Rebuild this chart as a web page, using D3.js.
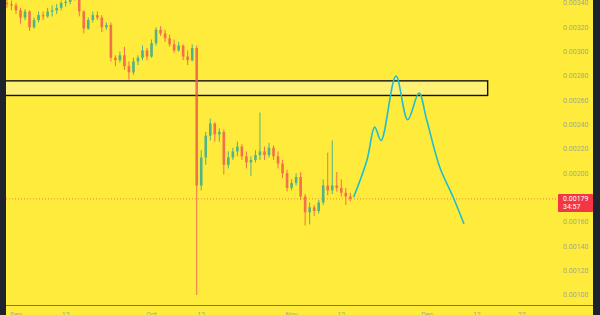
<!DOCTYPE html>
<html>
<head>
<meta charset="utf-8">
<script src="https://cdn.jsdelivr.net/npm/d3@7"></script>
<style>
  html, body { margin: 0; padding: 0; background: #1e222d; overflow: hidden; }
  text { font-family: Roboto, "Open Sans", sans-serif; }
</style>
</head>
<body>
<script>
const WIDTH = 600;
const HEIGHT = 315;

const BG = "#ffeb3b";
const UP = "#26a69a";
const DOWN = "#ef5350";

// daily candles from Aug 30, prices in units of 0.00001
const START = Date.UTC(2025, 7, 30);
const DAY = 864e5;
const UNIT = 1e-5;

const opens  = [340, 339, 338, 334, 328, 333, 320, 326, 330, 329, 333, 334, 336, 340, 341, 347, 345, 333, 319, 326,
                330, 328, 320, 322, 295, 293, 297, 288, 283, 292, 295, 301, 296, 307, 318, 315, 311, 306, 301, 305,
                296, 293, 303, 190, 213, 231, 241, 232, 234, 207, 213, 218, 222, 214, 209, 211, 215, 218, 215, 221,
                214, 208, 200, 188, 192, 197, 181, 168, 172, 169, 176, 190, 186, 190, 188, 184, 181];
const highs  = [344, 342, 340, 336, 335, 334, 328, 333, 333, 336, 338, 339, 342, 345, 349, 351, 347, 334, 328, 333,
                333, 330, 324, 324, 297, 300, 304, 292, 295, 297, 305, 303, 310, 320, 321, 318, 314, 310, 308, 306,
                301, 306, 305, 219, 234, 245, 242, 237, 236, 218, 221, 226, 224, 218, 214, 219, 250, 222, 225, 223,
                218, 211, 203, 195, 200, 201, 183, 176, 174, 178, 195, 217, 227, 201, 195, 188, 184];
const lows   = [336, 334, 331, 323, 326, 317, 319, 324, 326, 328, 329, 331, 334, 337, 339, 342, 329, 315, 318, 324,
                326, 316, 318, 292, 288, 291, 285, 277, 281, 289, 293, 293, 295, 305, 313, 308, 304, 299, 300, 293,
                289, 292, 100, 186, 207, 227, 226, 226, 199, 204, 211, 214, 211, 204, 198, 209, 211, 211, 213, 211,
                204, 196, 185, 186, 190, 178, 157, 158, 165, 167, 174, 182, 183, 185, 181, 174, 177];
const closes = [339, 338, 334, 328, 333, 320, 326, 330, 329, 333, 334, 336, 340, 341, 347, 345, 333, 319, 326, 330,
                328, 320, 322, 295, 293, 297, 288, 283, 292, 295, 301, 296, 307, 318, 315, 311, 306, 301, 305, 296,
                293, 303, 190, 213, 231, 241, 232, 234, 207, 213, 218, 222, 214, 209, 211, 215, 218, 215, 221, 214,
                208, 200, 188, 192, 197, 181, 168, 172, 169, 176, 190, 186, 190, 188, 184, 181, 179];

// drawn forecast path: days after Sep 1 and price
const projDays   = [74.8, 77.7, 79.4, 80.8, 84.1, 86.7, 89.2, 90.9, 93.8, 96.7, 99.1];
const projPrices = [181, 211, 238, 227, 280, 244, 266, 244, 205, 181, 159];

// resistance zone
const zoneTop = 276;
const zoneBottom = 264;
const zoneEndDay = 104.4;

const yTicks = [340, 320, 300, 280, 260, 240, 220, 200, 160, 140, 120, 100];
const xTicks = [
  {d: Date.UTC(2025, 8, 1), label: "Sep"},
  {d: Date.UTC(2025, 8, 12), label: "12"},
  {d: Date.UTC(2025, 9, 1), label: "Oct"},
  {d: Date.UTC(2025, 9, 12), label: "12"},
  {d: Date.UTC(2025, 10, 1), label: "Nov"},
  {d: Date.UTC(2025, 10, 12), label: "12"},
  {d: Date.UTC(2025, 11, 1), label: "Dec"},
  {d: Date.UTC(2025, 11, 12), label: "12"},
  {d: Date.UTC(2025, 11, 22), label: "22"}
];
const lastPrice = "0.00179";
const countdown = "34:57";

const SEP1 = Date.UTC(2025, 8, 1);

var x = d3.scaleUtc()
  .domain([new Date(SEP1), new Date(Date.UTC(2025, 11, 22))])
  .range([16, 522]);
var y = d3.scaleLinear()
  .domain([100 * UNIT, 340 * UNIT])
  .range([295, 3]);

const PLOT_LEFT = 6, PLOT_RIGHT = 593, PLOT_BOTTOM = 305;

var svg = d3.select("body").append("svg")
  .attr("width", WIDTH).attr("height", HEIGHT)
  .style("display", "block");

svg.append("rect").attr("width", WIDTH).attr("height", HEIGHT).attr("fill", "#1e222d");
svg.append("rect")
  .attr("x", PLOT_LEFT).attr("y", 0)
  .attr("width", PLOT_RIGHT - PLOT_LEFT).attr("height", HEIGHT)
  .attr("fill", BG);

svg.append("clipPath").attr("id", "plot")
  .append("rect")
  .attr("x", PLOT_LEFT).attr("y", 0)
  .attr("width", PLOT_RIGHT - PLOT_LEFT).attr("height", PLOT_BOTTOM);

var g = svg.append("g").attr("clip-path", "url(#plot)");

// zone box
g.append("rect")
  .attr("x", PLOT_LEFT - 5)
  .attr("y", y(zoneTop * UNIT))
  .attr("width", x(new Date(SEP1 + zoneEndDay * DAY)) - PLOT_LEFT + 5)
  .attr("height", y(zoneBottom * UNIT) - y(zoneTop * UNIT))
  .attr("fill", "#fff176")
  .attr("stroke", "#111")
  .attr("stroke-width", 1.4);

// candles
var candles = closes.map(function(c, i) {
  return {date: new Date(START + i * DAY), o: opens[i] * UNIT, h: highs[i] * UNIT, l: lows[i] * UNIT, c: c * UNIT};
});
const BODY_W = 2.6;

var cg = g.append("g").selectAll("g").data(candles).enter().append("g")
  .attr("opacity", 0.8);
cg.append("line")
  .attr("x1", function(d) { return x(d.date); })
  .attr("x2", function(d) { return x(d.date); })
  .attr("y1", function(d) { return y(d.h); })
  .attr("y2", function(d) { return y(d.l); })
  .attr("stroke", function(d) { return d.c >= d.o ? UP : DOWN; })
  .attr("stroke-width", 1);
cg.append("rect")
  .attr("x", function(d) { return x(d.date) - BODY_W / 2; })
  .attr("y", function(d) { return y(Math.max(d.o, d.c)); })
  .attr("width", BODY_W)
  .attr("height", function(d) { return Math.max(1, Math.abs(y(d.o) - y(d.c))); })
  .attr("fill", function(d) { return d.c >= d.o ? UP : DOWN; });

// last price dotted line
g.append("line")
  .attr("x1", PLOT_LEFT).attr("x2", 556)
  .attr("y1", y(+lastPrice)).attr("y2", y(+lastPrice))
  .attr("stroke", "#f0803c")
  .attr("stroke-width", 1)
  .attr("stroke-dasharray", "1,2");

// forecast path
var proj = projDays.map(function(d, i) { return [new Date(SEP1 + d * DAY), projPrices[i] * UNIT]; });
g.append("path")
  .datum(proj)
  .attr("fill", "none")
  .attr("stroke", "#1fbcd2")
  .attr("stroke-width", 1.6)
  .attr("stroke-linecap", "round")
  .attr("d", d3.line()
    .x(function(d) { return x(d[0]); })
    .y(function(d) { return y(d[1]); })
    .curve(d3.curveCatmullRom.alpha(0.5)));

// price axis labels
svg.append("g").selectAll("text").data(yTicks).enter().append("text")
  .attr("x", 563)
  .attr("y", function(d) { return y(d * UNIT); })
  .attr("dy", "0.35em")
  .attr("font-size", 7)
  .attr("fill", "#a9a68c")
  .text(function(d) { return (d * UNIT).toFixed(5); });

// last price tag
var py = y(+lastPrice);
svg.append("rect")
  .attr("x", 558).attr("y", py - 5)
  .attr("width", 35).attr("height", 18)
  .attr("rx", 1)
  .attr("fill", "#f23645");
svg.append("text")
  .attr("x", 563).attr("y", py).attr("dy", "0.35em")
  .attr("font-size", 7).attr("fill", "#fff")
  .text(lastPrice);
svg.append("text")
  .attr("x", 563).attr("y", py + 8).attr("dy", "0.35em")
  .attr("font-size", 7).attr("fill", "#fff")
  .text(countdown);

// time axis
svg.append("line")
  .attr("x1", PLOT_LEFT).attr("x2", PLOT_RIGHT)
  .attr("y1", PLOT_BOTTOM + 0.5).attr("y2", PLOT_BOTTOM + 0.5)
  .attr("stroke", "#77735a")
  .attr("stroke-width", 1);

svg.append("g").selectAll("text").data(xTicks).enter().append("text")
  .attr("x", function(d) { return x(new Date(d.d)); })
  .attr("y", 317)
  .attr("text-anchor", "middle")
  .attr("font-size", 7)
  .attr("fill", "#a9a68c")
  .text(function(d) { return d.label; });
</script>
</body>
</html>
